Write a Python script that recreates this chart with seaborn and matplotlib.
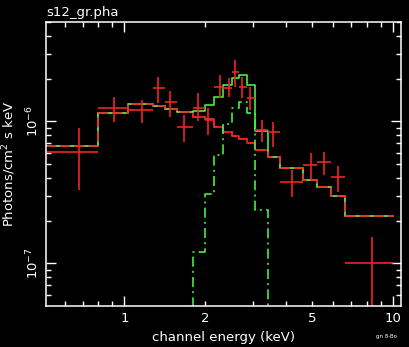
import numpy as np
import matplotlib
matplotlib.use("Agg")
import matplotlib.pyplot as plt
import seaborn as sns

# channel groups (keV) - lower edges plus final upper edge
bin_edges = [0.51, 0.80, 1.035, 1.28, 1.41, 1.57, 1.805, 2.00, 2.15, 2.33, 2.51,
             2.67, 2.85, 3.06, 3.42, 3.80, 4.63, 5.22, 5.88, 6.63, 10.0]

# data points (red crosses)
data_energy = [0.675, 0.918, 1.167, 1.338, 1.483, 1.672, 1.884, 2.05, 2.26, 2.44,
               2.59, 2.75, 2.94, 3.26, 3.58, 4.21, 4.96, 5.54, 6.25, 8.35]
data_flux = [6.05e-7, 1.234e-6, 1.195e-6, 1.708e-6, 1.361e-6, 9.07e-7, 1.234e-6, 1.016e-6,
             1.736e-6, 1.708e-6, 2.213e-6, 1.736e-6, 1.452e-6, 8.64e-7, 8.37e-7, 3.72e-7,
             4.90e-7, 5.14e-7, 4.04e-7, 1.0e-7]
data_hi = [8.93e-7, 1.476e-6, 1.406e-6, 2.04e-6, 1.627e-6, 1.102e-6, 1.575e-6, 1.234e-6,
           2.11e-6, 2.007e-6, 2.69e-6, 2.04e-6, 1.736e-6, 1.016e-6, 9.84e-7, 4.52e-7,
           5.95e-7, 6.05e-7, 4.82e-7, 1.52e-7]
data_lo = [3.27e-7, 9.84e-7, 9.68e-7, 1.339e-6, 1.067e-6, 7.11e-7, 1.0e-6, 7.97e-7,
           1.452e-6, 1.476e-6, 1.736e-6, 1.452e-6, 1.195e-6, 7.11e-7, 6.56e-7, 2.92e-7,
           3.84e-7, 4.17e-7, 3.16e-7, 2.0e-8]

# model: continuum (red), total (green), line component (green dash-dot)
model_cont = [6.67e-7, 1.139e-6, 1.317e-6, 1.275e-6, 1.215e-6, 1.157e-6, 1.067e-6, 1.033e-6,
              9.07e-7, 8.37e-7, 7.84e-7, 7.47e-7, 7.00e-7, 6.25e-7, 5.58e-7, 4.67e-7,
              3.84e-7, 3.43e-7, 2.96e-7, 2.14e-7]
model_total = [6.67e-7, 1.139e-6, 1.317e-6, 1.275e-6, 1.215e-6, 1.157e-6, 1.176e-6, 1.296e-6,
               1.476e-6, 1.793e-6, 2.008e-6, 2.108e-6, 1.793e-6, 8.50e-7, 5.58e-7, 4.67e-7,
               3.84e-7, 3.43e-7, 2.96e-7, 2.14e-7]
# 1e-9 = below the plotted range
model_line = [1e-9, 1e-9, 1e-9, 1e-9, 1e-9, 1e-9, 1.196e-7, 3.06e-7,
              5.76e-7, 9.53e-7, 1.234e-6, 1.361e-6, 1.139e-6, 2.36e-7, 1e-9, 1e-9,
              1e-9, 1e-9, 1e-9, 1e-9]

RED = "#f02424"
GREEN = "#44ee44"

sns.set_theme(style="ticks", rc={"figure.facecolor": "black", "axes.facecolor": "black",
                                 "savefig.facecolor": "black"})
plt.rcParams["font.family"] = ["DejaVu Sans"]

fig = plt.figure(figsize=(4.1, 3.47), dpi=100)
ax = fig.add_axes([0.112, 0.118, 0.866, 0.8186])

# steps-post needs the last value repeated at the final edge
cont_y = model_cont + [model_cont[-1]]
total_y = model_total + [model_total[-1]]
line_y = model_line + [model_line[-1]]

# continuum under, total over, then continuum dashed on top so the overlap looks mixed
sns.lineplot(x=bin_edges, y=cont_y, drawstyle="steps-post",
             color=RED, lw=1.2, estimator=None, sort=False, ax=ax)
sns.lineplot(x=bin_edges, y=total_y, drawstyle="steps-post",
             color=GREEN, lw=1.2, estimator=None, sort=False, ax=ax)
ax.plot(bin_edges, cont_y, drawstyle="steps-post",
        color=RED, lw=1.2, linestyle=(0, (6, 2.5)))
sns.lineplot(x=bin_edges, y=line_y, drawstyle="steps-post",
             color=GREEN, lw=1.2, linestyle=(0, (6, 2.5, 1.2, 2.5)),
             estimator=None, sort=False, ax=ax)

x = np.array(data_energy)
y = np.array(data_flux)
xl = np.array(bin_edges[:-1])
xh = np.array(bin_edges[1:])
ax.errorbar(x, y, xerr=[x - xl, xh - x], yerr=[y - np.array(data_lo), np.array(data_hi) - y],
            fmt="none", ecolor=RED, elinewidth=1.2, capsize=0)

ax.set_xscale("log")
ax.set_yscale("log")
ax.set_xlim(0.51, 10.7)
ax.set_ylim(5e-8, 5e-6)

ax.set_xticks([1, 10], ["1", "10"])
ax.set_xticks([0.6, 0.7, 0.8, 0.9, 2, 3, 4, 5, 6, 7, 8, 9],
              ["", "", "", "", "2", "", "", "5", "", "", "", ""], minor=True)
ax.set_yticks([1e-7, 1e-6], ["10$^{-7}$", "10$^{-6}$"])
ax.set_yticks([6e-8, 7e-8, 8e-8, 9e-8] + [k * 1e-7 for k in range(2, 10)] +
              [k * 1e-6 for k in range(2, 6)], minor=True)
ax.yaxis.set_minor_formatter(matplotlib.ticker.NullFormatter())

ax.tick_params(which="both", direction="in", colors="white", labelcolor="white",
               top=True, right=True, labelsize=9.5, width=1.0)
ax.tick_params(which="major", length=7)
ax.tick_params(which="minor", length=3.5)
ax.tick_params(axis="x", which="both", pad=4)
ax.tick_params(axis="y", which="major", labelrotation=90, pad=3)
for lab in ax.get_yticklabels():
    lab.set_va("center")

for s in ax.spines.values():
    s.set_color("white")
    s.set_linewidth(1.1)

ax.set_xlabel("channel energy (keV)", color="white", fontsize=9.5)
ax.xaxis.set_label_coords(0.5, -0.109)
ax.xaxis.label.set_va("center")
ax.set_ylabel("Photons/cm$^2$ s keV", color="white", fontsize=9.5)
ax.yaxis.set_label_coords(-0.104, 0.5)
ax.yaxis.label.set_va("center")

fig.text(0.112, 0.965, "s12_gr.pha", color="white", fontsize=9.5, va="center", ha="left")
fig.text(0.968, 0.029, "gn 8-Bo", color="white", fontsize=4, va="center", ha="right")

fig.savefig("out.png", dpi=100, facecolor="black")
